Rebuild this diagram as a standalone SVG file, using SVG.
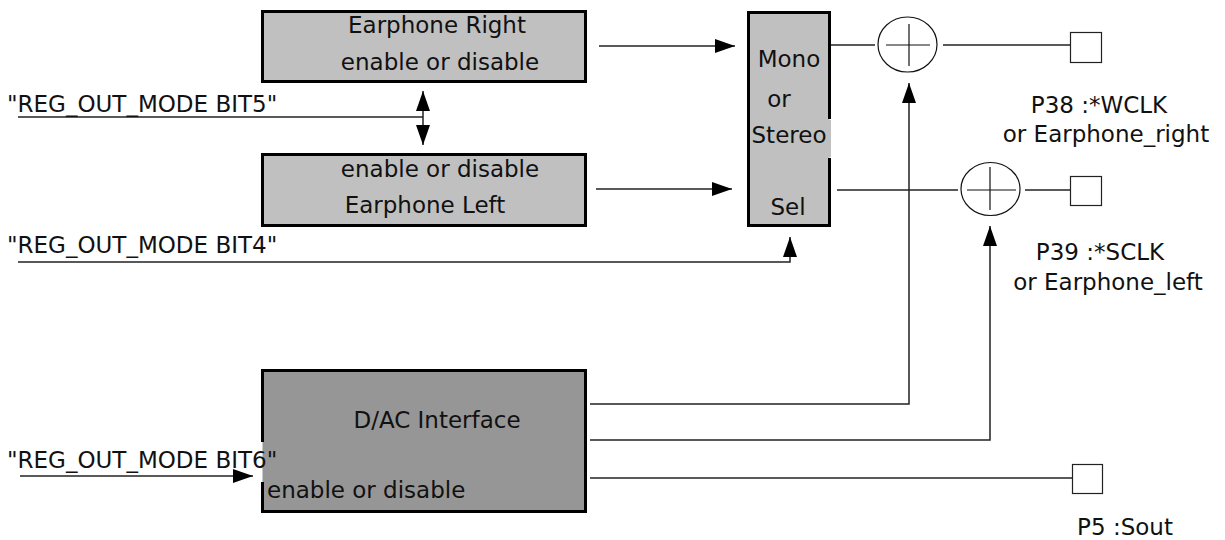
<svg xmlns="http://www.w3.org/2000/svg" width="1225" height="540" viewBox="0 0 1225 540">
<defs>
<marker id="ah" viewBox="0 0 20 14" refX="20" refY="7" markerWidth="20" markerHeight="14" markerUnits="userSpaceOnUse" orient="auto-start-reverse">
<path d="M0,0 L20,7 L0,14 Z" fill="#000"/>
</marker>
<style>
text{font-family:"DejaVu Sans","Liberation Sans",sans-serif;font-size:23px;fill:#111}
.box{stroke:#000;stroke-width:3}
.bd{fill:none;stroke:#000;stroke-width:3}
.ln{fill:none;stroke:#222;stroke-width:1.5}
.th{fill:none;stroke:#111;stroke-width:1.2}
.pad{fill:#fff;stroke:#222;stroke-width:1.2}
</style>
</defs>
<rect width="1225" height="540" fill="#fff"/>

<g id="connectors">
<line class="ln" x1="599" y1="46" x2="735" y2="46" marker-end="url(#ah)"/>
<line class="ln" x1="596" y1="189" x2="732" y2="189" marker-end="url(#ah)"/>
<line class="ln" x1="18" y1="117" x2="423" y2="117"/>
<line class="ln" x1="423" y1="91" x2="423" y2="145" marker-start="url(#ah)" marker-end="url(#ah)"/>
<polyline class="ln" points="18,262 790,262 790,237" marker-end="url(#ah)"/>
<line class="ln" x1="20" y1="476" x2="253" y2="476" marker-end="url(#ah)"/>
<line class="ln" x1="831" y1="45" x2="875" y2="45"/>
<line class="ln" x1="943" y1="45" x2="1070" y2="45"/>
<line class="ln" x1="837" y1="190" x2="958" y2="190"/>
<line class="ln" x1="1025" y1="190" x2="1070" y2="190"/>
<polyline class="ln" points="590,404 909,404 909,83" marker-end="url(#ah)"/>
<polyline class="ln" points="590,440 990,440 990,226" marker-end="url(#ah)"/>
<line class="ln" x1="590" y1="478" x2="1072" y2="478"/>
</g>

<g id="earphone-right">
<rect class="box" x="262.5" y="11.5" width="323" height="70" fill="#c0c0c0"/>
<text x="437" y="33" text-anchor="middle">Earphone Right</text>
<text x="440" y="70" text-anchor="middle">enable or disable</text>
</g>

<g id="earphone-left">
<rect class="box" x="262.5" y="154.5" width="323" height="71" fill="#c0c0c0"/>
<text x="440" y="177" text-anchor="middle">enable or disable</text>
<text x="425" y="213" text-anchor="middle">Earphone Left</text>
</g>

<g id="mono-stereo-sel">
<rect x="748.5" y="12.5" width="81" height="213" fill="#c0c0c0"/>
<rect x="829" y="120" width="2" height="37" fill="#c0c0c0"/>
<path class="bd" d="M829.5,119 V12.5 H748.5 V225.5 H829.5 V158"/>
<text x="789" y="67" text-anchor="middle" font-size="26">Mono</text>
<text x="779" y="107" text-anchor="middle" font-size="24">or</text>
<text x="789" y="143" text-anchor="middle" font-size="24">Stereo</text>
<text x="788" y="215" text-anchor="middle" font-size="25">Sel</text>
</g>

<g id="sum-right">
<ellipse class="th" cx="907.5" cy="44.5" rx="29.5" ry="27.5"/>
<line class="th" x1="886" y1="45" x2="930" y2="45"/>
<line class="th" x1="909" y1="24" x2="909" y2="66"/>
</g>

<g id="sum-left">
<ellipse class="th" cx="990.5" cy="189" rx="29.5" ry="26.5"/>
<line class="th" x1="967" y1="190" x2="1016" y2="190"/>
<line class="th" x1="990" y1="167" x2="990" y2="210"/>
</g>

<g id="pin-p38">
<rect class="pad" x="1070.5" y="32.5" width="31" height="30"/>
<text x="1099" y="113" text-anchor="middle">P38 :*WCLK</text>
<text x="1106" y="142" text-anchor="middle">or Earphone_right</text>
</g>

<g id="pin-p39">
<rect class="pad" x="1070.5" y="176.5" width="31" height="29"/>
<text x="1100" y="260" text-anchor="middle">P39 :*SCLK</text>
<text x="1108" y="290" text-anchor="middle">or Earphone_left</text>
</g>

<g id="dac-interface">
<rect x="262.5" y="370.5" width="323" height="141" fill="#969696"/>
<path class="bd" d="M262.5,442 V370.5 H585.5 V511.5 H262.5 V482"/>
<text x="437" y="428" text-anchor="middle">D/AC Interface</text>
<text x="267" y="498">enable or disable</text>
</g>

<g id="pin-p5">
<rect class="pad" x="1072.5" y="464.5" width="30" height="29"/>
<text x="1125" y="535" text-anchor="middle">P5 :Sout</text>
</g>

<g id="labels">
<text x="7" y="112">"REG_OUT_MODE BIT5"</text>
<text x="7" y="253">"REG_OUT_MODE BIT4"</text>
<text x="7" y="468">"REG_OUT_MODE BIT6"</text>
</g>
</svg>
